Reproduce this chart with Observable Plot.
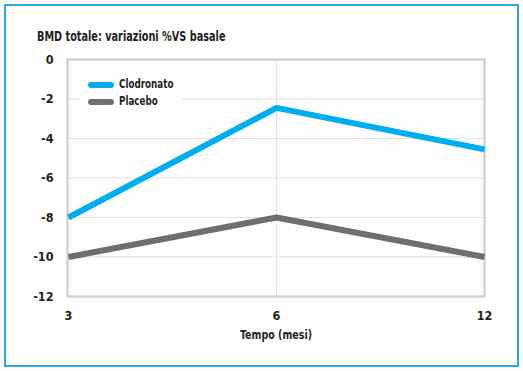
<!DOCTYPE html>
<html>
<head>
<meta charset="utf-8">
<script src="https://cdn.jsdelivr.net/npm/d3@7"></script>
<script src="https://cdn.jsdelivr.net/npm/@observablehq/plot@0.6"></script>
<style>
  html, body { margin: 0; padding: 0; background: #fff; }
  body { font-family: "Liberation Sans Narrow", "DejaVu Sans Condensed", sans-serif; }
  #wrap { position: relative; width: 523px; height: 371px; overflow: hidden; background: #fff; }
  #border { position: absolute; left: 4px; top: 4px; width: 511px; height: 359px; border: 2px solid #29a9e0; }
  #title { position: absolute; left: 37px; top: 28px; font-size: 13.5px; font-weight: bold; color: #231f20; white-space: nowrap; transform: scaleX(0.8); transform-origin: left center; }
  #chart { position: absolute; left: 0; top: 0; }
  #legend { position: absolute; left: 80px; top: 74px; width: 102px; height: 36px; background: #fff; }
  .item { position: absolute; left: 8px; height: 16px; font-size: 12.5px; font-weight: bold; color: #231f20; }
  .sw { position: absolute; left: 0; top: 5px; width: 26px; height: 6px; border-radius: 3px; }
  .lab { position: absolute; left: 31px; top: -1px; white-space: nowrap; transform: scaleX(0.78); transform-origin: left center; }
</style>
</head>
<body>
<div id="wrap">
  <div id="border"></div>
  <div id="title"></div>
  <div id="chart"></div>
  <div id="legend"></div>
</div>
<script>
const titleText = "BMD totale: variazioni %VS basale";
const xLabel = "Tempo (mesi)";
const months = ["3", "6", "12"];
const seriesNames = ["Clodronato", "Placebo"];
const seriesColors = ["#00aeef", "#6d6e71"];
const clodronato = [-8, -2.45, -4.55];
const placebo = [-10, -8, -10];
const yTicks = [0, -2, -4, -6, -8, -10, -12];
const yGrid = [-2, -4, -6, -8, -10];
const xGrid = ["6"];

const rows = [];
months.forEach((m, i) => {
  rows.push({ mese: m, valore: clodronato[i], serie: seriesNames[0] });
  rows.push({ mese: m, valore: placebo[i], serie: seriesNames[1] });
});

document.getElementById("title").textContent = titleText;

const legend = document.getElementById("legend");
seriesNames.forEach((s, i) => {
  const it = document.createElement("div");
  it.className = "item";
  it.style.top = (3 + i * 17) + "px";
  it.innerHTML = `<div class="sw" style="background:${seriesColors[i]}"></div><div class="lab">${s}</div>`;
  legend.appendChild(it);
});

const chart = Plot.plot({
  width: 523,
  height: 371,
  marginLeft: 67,
  marginRight: 39,
  marginTop: 59,
  marginBottom: 75,
  style: { fontFamily: '"Liberation Sans Narrow", "DejaVu Sans Condensed", sans-serif', fontSize: "12.5px", fontWeight: "bold", color: "#231f20", background: "transparent" },
  x: { type: "point", domain: months, padding: 0 },
  y: { domain: [-12, 0] },
  color: { domain: seriesNames, range: seriesColors },
  marks: [
    Plot.ruleY(yGrid, { stroke: "#e2e2e2", strokeWidth: 1.2 }),
    Plot.ruleX(xGrid, { stroke: "#e2e2e2", strokeWidth: 1.2 }),
    Plot.frame({ stroke: "#d2d2d2", strokeWidth: 2.5 }),
    Plot.axisY({ ticks: yTicks, tickSize: 0, tickPadding: 14, tickFormat: d => String(d).replace("−", "-"), label: null }),
    Plot.axisX({ tickSize: 0, tickPadding: 15, label: xLabel, labelAnchor: "center", labelArrow: false, labelOffset: 42 }),
    Plot.line(rows, { x: "mese", y: "valore", z: "serie", stroke: "serie", strokeWidth: 6, strokeLinejoin: "miter", strokeLinecap: "butt" })
  ]
});
// condense the axis label to match the narrow typeface of the original
chart.querySelectorAll("text").forEach(t => {
  if (t.textContent === xLabel) {
    t.setAttribute("textLength", 72);
    t.setAttribute("lengthAdjust", "spacingAndGlyphs");
  }
});
document.getElementById("chart").appendChild(chart);
</script>
</body>
</html>
